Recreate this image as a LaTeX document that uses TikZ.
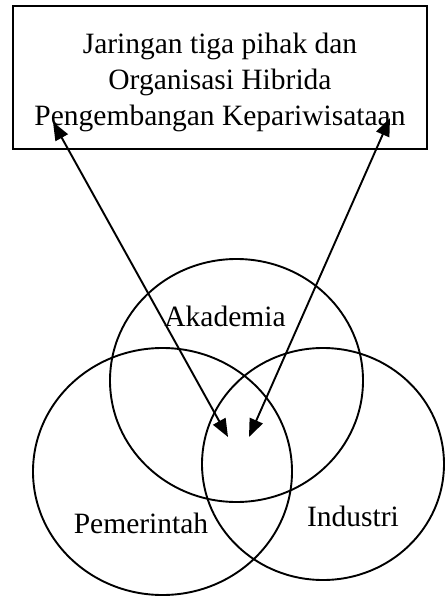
\documentclass[tikz,border=0pt]{standalone}
\usepackage{fontspec}
\setmainfont{Liberation Serif}
\usetikzlibrary{shapes.geometric,arrows.meta}
\begin{document}
\begin{tikzpicture}[x=1pt,y=-1pt,
  every node/.style={font=\fontsize{29.5}{36}\selectfont},
  frame/.style={draw,line width=2pt,rectangle,inner sep=0pt},
  sector/.style={draw,line width=1.9pt,ellipse,inner sep=0pt},
  label text/.style={anchor=base,inner sep=0pt},
  link/.style={line width=1.9pt,{Triangle[length=18pt,width=14pt]}-{Triangle[length=18pt,width=14pt]}}]
\useasboundingbox (0,0) rectangle (444,596);
% title box
\node[frame,minimum width=414pt,minimum height=143pt] (box) at (220,77.5) {};
\node[align=center,inner sep=0pt] (boxtext) at (220,82)
  {Jaringan tiga pihak dan\\Organisasi Hibrida\\Pengembangan Kepariwisataan};
% three overlapping sectors
\node[sector,minimum width=253pt,minimum height=243pt] (akademia) at (236.5,380.5) {};
\node[sector,minimum width=259pt,minimum height=247pt] (pemerintah) at (162.5,471.5) {};
\node[sector,minimum width=242pt,minimum height=232pt] (industri) at (323,464) {};
\node[label text] (lakademia) at (225,326) {Akademia};
\node[label text] (lpemerintah) at (141,533) {Pemerintah};
\node[label text] (lindustri) at (353,526) {Industri};
% links between the box and the common overlap
\coordinate (boxL) at (53,122);
\coordinate (boxR) at (390,118);
\coordinate (hubL) at (228,437);
\coordinate (hubR) at (249,437);
\draw[link] (boxL) -- (hubL);
\draw[link] (boxR) -- (hubR);
\end{tikzpicture}
\end{document}
